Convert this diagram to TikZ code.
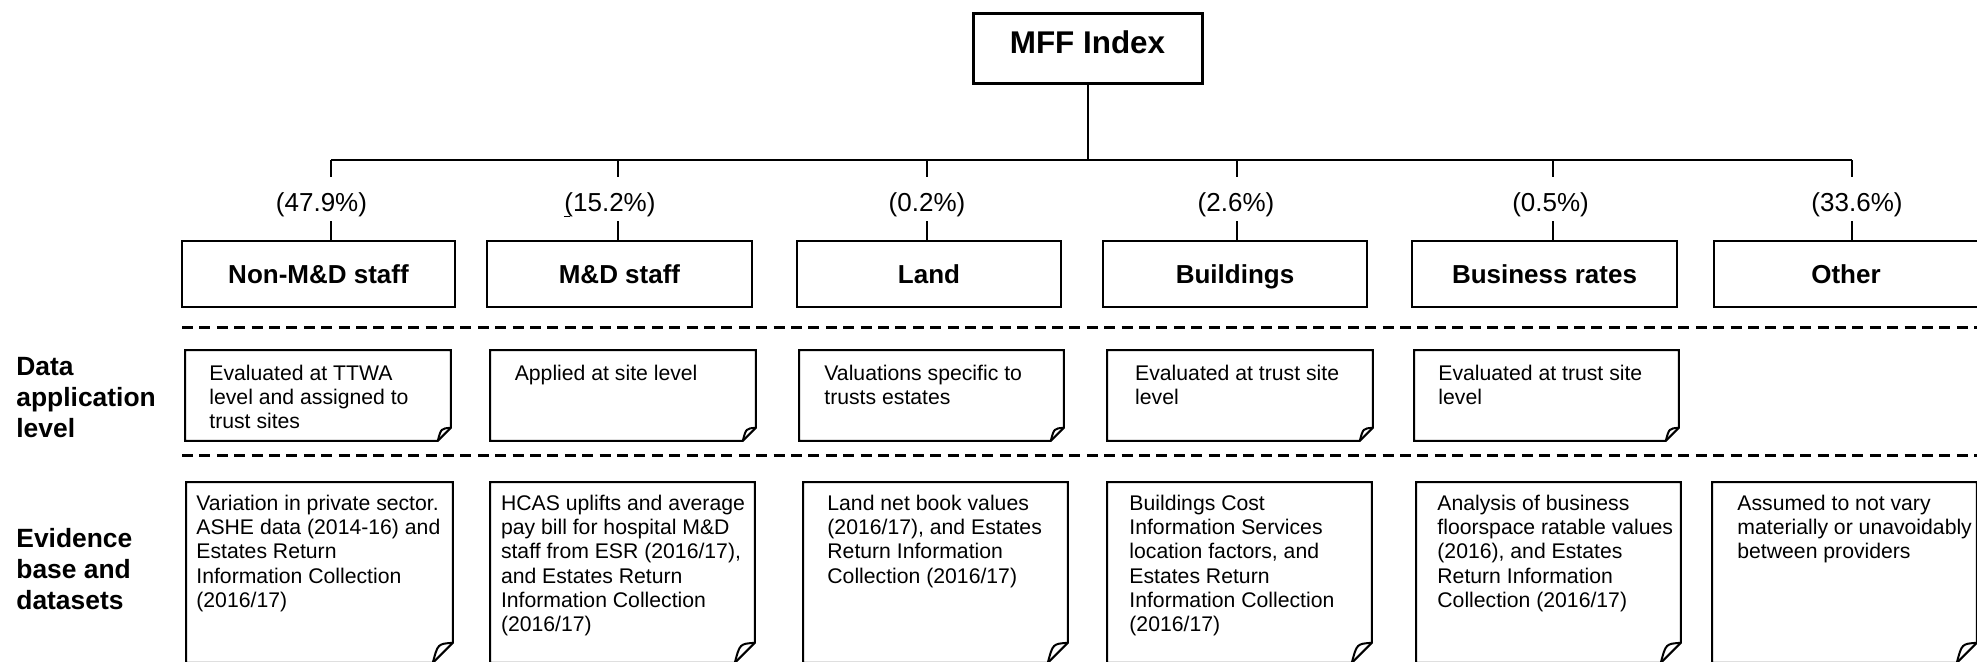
\documentclass[tikz,border=0pt]{standalone}
\usepackage{fontspec}
\setmainfont{Liberation Sans}
\usepackage{tikz}
\usetikzlibrary{calc}

\tikzset{
	tree/.style={line width=1pt},
	rootbox/.style={draw, line width=1.5pt, minimum width=114.5pt, minimum height=35pt, inner sep=0pt,
		font=\fontsize{15.7}{18}\selectfont\bfseries, text height=11.3pt, text depth=6pt},
	costbox/.style={draw, line width=1pt, minimum height=33pt, inner sep=0pt,
		font=\fontsize{13}{15}\selectfont\bfseries, text height=9.3pt, text depth=0pt},
	pct/.style={inner sep=0pt, font=\fontsize{13}{15}\selectfont, text height=17.25pt, text depth=4.75pt},
	rowlabel/.style={anchor=north west, inner sep=0pt, align=left, font=\fontsize{13.2}{15.5}\selectfont\bfseries},
	noteframe/.style={anchor=north west, inner sep=0pt},
	noteline/.style={line width=1pt},
	notetext/.style={anchor=north west, inner sep=0pt, align=left, font=\fontsize{10.6}{12.1}\selectfont},
	divider/.style={line width=1.5pt, dash pattern=on 5.5pt off 3.2pt},
}

% name, x, y, width, height, fold, text x pad, text y pad, text
\newcommand{\notebox}[9]{%
	\node[noteframe, minimum width=#4, minimum height=#5] (#1) at (#2,#3) {};
	\draw[noteline] (#1.north west) -- (#1.north east) -- ([yshift=#6]#1.south east)
		-- ([xshift=-#6]#1.south east) -- (#1.south west) -- cycle;
	\draw[noteline] ([yshift=#6]#1.south east) .. controls ([xshift=-0.75*#6, yshift=0.95*#6]#1.south east) .. ([xshift=-#6]#1.south east);
	\node[notetext] (#1-txt) at ([xshift=#7, yshift=-#8]#1.north west) {#9};
}

\begin{document}
\begin{tikzpicture}[x=1pt, y=-1pt]
	\useasboundingbox (0,0) rectangle (988.5,330.5);
	\clip (0,0) rectangle (988.5,330.5);

	\node[rootbox] (root) at (543.75,24) {MFF Index};

	\coordinate (t1) at (165.5,80);
	\coordinate (t2) at (308.8,80);
	\coordinate (t3) at (463.5,80);
	\coordinate (t4) at (618.5,80);
	\coordinate (t5) at (776.5,80);
	\coordinate (t6) at (926,80);

	\node[pct] (p1) at (160.75,99.5) {(47.9\%)};
	\node[pct] (p2) at (305,99.5) {\makebox[0pt][l]{\hspace*{-0.3pt}\rule[-2.8pt]{3pt}{0.6pt}}(15.2\%)};
	\node[pct] (p3) at (463.5,99.5) {(0.2\%)};
	\node[pct] (p4) at (618,99.5) {(2.6\%)};
	\node[pct] (p5) at (775.3,99.5) {(0.5\%)};
	\node[pct] (p6) at (928.5,99.5) {(33.6\%)};

	\node[costbox, minimum width=136.5pt] (nonmd) at (159.25,137) {Non-M\&D staff};
	\node[costbox, minimum width=132.5pt] (md) at (309.75,137) {M\&D staff};
	\node[costbox, minimum width=132pt] (land) at (464.5,137) {Land};
	\node[costbox, minimum width=132pt] (bld) at (617.5,137) {Buildings};
	\node[costbox, minimum width=132.5pt] (bus) at (772.25,137) {Business rates};
	\node[costbox, minimum width=132pt] (oth) at (923,137) {Other};

	\draw[tree] (root.south) -- (root.south |- t1);
	\draw[tree] (t1) -- (t6);
	\draw[tree] (t1) -- (t1 |- p1.north) (t1 |- p1.south) -- (t1 |- nonmd.north);
	\draw[tree] (t2) -- (t2 |- p2.north) (t2 |- p2.south) -- (t2 |- md.north);
	\draw[tree] (t3) -- (t3 |- p3.north) (t3 |- p3.south) -- (t3 |- land.north);
	\draw[tree] (t4) -- (t4 |- p4.north) (t4 |- p4.south) -- (t4 |- bld.north);
	\draw[tree] (t5) -- (t5 |- p5.north) (t5 |- p5.south) -- (t5 |- bus.north);
	\draw[tree] (t6) -- (t6 |- p6.north) (t6 |- p6.south) -- (t6 |- oth.north);

	\draw[divider] (91,163.9) -- (988.5,163.9);
	\draw[divider] (91,227.75) -- (988.5,227.75);

	\node[rowlabel] (lblapp) at (8,178.5) {Data\\application\\level};
	\node[rowlabel] (lblevi) at (8,264) {Evidence\\base and\\datasets};

	\notebox{appnon}{92.5}{175}{132.5pt}{45pt}{6.5pt}{12pt}{7.35pt}{Evaluated at TTWA\\level and assigned to\\trust sites}
	\notebox{appmd}{245}{175}{132.5pt}{45pt}{6.5pt}{12.2pt}{7.35pt}{Applied at site level}
	\notebox{appland}{399.5}{175}{132pt}{45pt}{6.5pt}{12.5pt}{7.35pt}{Valuations specific to\\trusts estates}
	\notebox{appbld}{553.5}{175}{132.5pt}{45pt}{6.5pt}{13.9pt}{7.35pt}{Evaluated at trust site\\level}
	\notebox{appbus}{707}{175}{132pt}{45pt}{6.5pt}{12pt}{7.35pt}{Evaluated at trust site\\level}

	\notebox{evinon}{93}{241}{133pt}{90pt}{10pt}{5pt}{6.35pt}{Variation in private sector.\\ASHE data (2014-16) and\\Estates Return\\Information Collection\\(2016/17)}
	\notebox{evimd}{245}{241}{132pt}{90pt}{10pt}{5.3pt}{6.35pt}{HCAS uplifts and average\\pay bill for hospital M\&D\\staff from ESR (2016/17),\\and Estates Return\\Information Collection\\(2016/17)}
	\notebox{eviland}{401.5}{241}{132pt}{90pt}{10pt}{12pt}{6.35pt}{Land net book values\\(2016/17), and Estates\\Return Information\\Collection (2016/17)}
	\notebox{evibld}{553.5}{241}{132pt}{90pt}{10pt}{11pt}{6.35pt}{Buildings Cost\\Information Services\\location factors, and\\Estates Return\\Information Collection\\(2016/17)}
	\notebox{evibus}{708}{241}{132pt}{90pt}{10pt}{10.5pt}{6.35pt}{Analysis of business\\floorspace ratable values\\(2016), and Estates\\Return Information\\Collection (2016/17)}
	\notebox{evioth}{856}{241}{132pt}{90pt}{10pt}{12.5pt}{6.35pt}{Assumed to not vary\\materially or unavoidably\\between providers}
\end{tikzpicture}
\end{document}
